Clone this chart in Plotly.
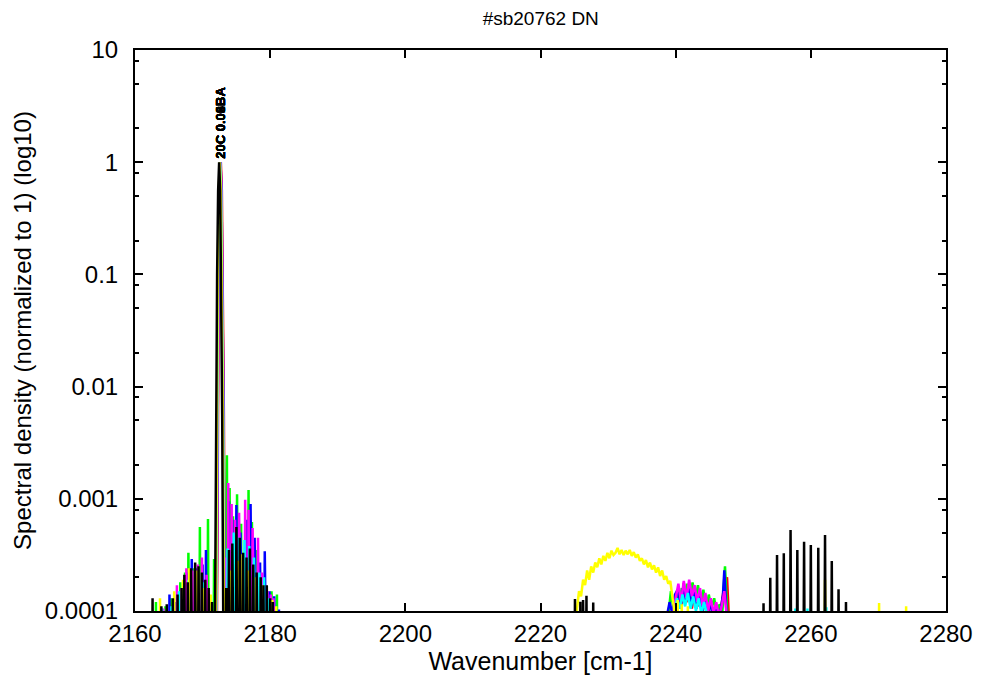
import plotly.graph_objects as go

# ---------------- data ----------------
title_text = "#sb20762 DN"
x_title = "Wavenumber [cm-1]"
y_title = "Spectral density (normalized to 1) (log10)"
y_tick_vals = [1e-4, 1e-3, 1e-2, 1e-1, 1, 10]
y_tick_text = ["0.0001", "0.001", "0.01", "0.1", "1", "10"]
x_tick_vals = [2160, 2180, 2200, 2220, 2240, 2260, 2280]

series_names = ["red", "green", "blue", "magenta", "cyan", "yellow", "black"]
series_colors = {"red": "#ff0000", "green": "#00ff00", "blue": "#0000ff", "magenta": "#ff00ff",
                 "cyan": "#00ffff", "yellow": "#ffff00", "black": "#000000"}
peak_labels = ["20C 0.05BA", "20C 0.08BA", "20C 0.06BA", "20C 0.03BA", "20C 0.09BA", "20C 0.02BA", "20C 0.04BA"]

# strong line (shared profile, relative wavenumber offsets and values)
main_dx = [-0.75, -0.6, -0.45, -0.3, -0.15, 0.0, 0.15, 0.3, 0.45, 0.6, 0.75]
main_val = [1e-6, 1e-4, 5.6e-3, 0.1, 0.56, 1.0, 0.56, 0.1, 5.6e-3, 1e-4, 1e-6]
main_center = {"red": 2172.7, "green": 2172.6, "blue": 2172.65, "magenta": 2172.65,
               "cyan": 2172.6, "yellow": 2172.55, "black": 2172.45}

# individual lines (wavenumber, value)
lines_wn = {
    "black": [2162.6, 2163.9, 2164.7, 2165.6, 2166.3, 2166.9, 2167.3, 2167.8, 2168.3, 2168.9, 2169.4,
              2169.9, 2170.4, 2170.9, 2171.4, 2173.5, 2173.9, 2174.4, 2175.0, 2175.5, 2176.0, 2176.5,
              2177.0, 2177.5, 2178.0, 2178.6, 2179.0, 2179.5, 2180.0, 2180.4,
              2225.1, 2225.9, 2226.3, 2226.8, 2227.8,
              2253.0, 2254.0, 2255.0, 2256.0, 2257.0, 2258.0, 2259.0, 2260.0, 2261.1, 2262.1, 2263.1,
              2264.1, 2265.2],
    "green": [2163.1, 2164.5, 2165.3, 2166.7, 2167.4, 2167.9, 2168.6, 2169.6, 2170.8, 2171.7, 2173.6,
              2174.0, 2174.5, 2175.1, 2175.7, 2176.8, 2177.3, 2178.0, 2178.7, 2179.3, 2180.2, 2181.0],
    "magenta": [2164.2, 2166.2, 2166.9, 2167.6, 2168.5, 2169.3, 2169.9, 2170.6, 2173.5, 2173.8, 2174.3,
                2174.8, 2175.4, 2176.3, 2176.8, 2177.4, 2178.2, 2178.8, 2179.6, 2180.1, 2180.5],
    "blue": [2165.1, 2166.0, 2167.0, 2167.7, 2168.4, 2169.2, 2170.0, 2170.5, 2173.9, 2174.4, 2175.0,
             2175.6, 2176.5, 2177.1, 2177.7, 2178.5, 2179.2, 2179.9, 2180.6, 2181.3],
    "cyan": [2164.0, 2165.4, 2166.5, 2167.9, 2169.0, 2170.2, 2173.7, 2174.6, 2175.4, 2176.2, 2176.9,
             2177.6, 2178.4, 2179.1, 2179.8, 2257.7, 2259.5, 2262.3],
    "yellow": [2163.7, 2165.8, 2167.1, 2168.0, 2169.1, 2170.1, 2171.2, 2174.2, 2175.2, 2175.9, 2176.7,
               2177.9, 2178.9, 2180.3, 2180.9, 2240.3, 2240.9, 2241.8, 2262.1, 2270.1, 2274.1],
    "red": [2168.8, 2173.8, 2174.2, 2175.3, 2177.2, 2178.3],
}
lines_val = {
    "black": [1.3e-4, 1.1e-4, 1.15e-4, 1.3e-4, 1.4e-4, 1.6e-4, 2.1e-4, 1.8e-4, 2.4e-4, 2.7e-4, 2.5e-4,
              2.2e-4, 1.9e-4, 1.6e-4, 1.2e-4, 1.6e-4, 3.5e-4, 4.0e-4, 5.6e-4, 4.5e-4, 3.3e-4, 3.0e-4,
              3.6e-4, 2.6e-4, 2.2e-4, 2.0e-4, 1.7e-4, 1.7e-4, 1.3e-4, 1.2e-4,
              1.28e-4, 1.21e-4, 1.25e-4, 1.37e-4, 1.19e-4,
              1.17e-4, 1.98e-4, 3.15e-4, 3.27e-4, 5.27e-4, 3.5e-4, 4.15e-4, 3.87e-4, 3.67e-4, 4.75e-4,
              2.79e-4, 1.56e-4, 1.2e-4],
    "green": [1.2e-4, 1.1e-4, 1.3e-4, 1.8e-4, 2.2e-4, 3.3e-4, 2.4e-4, 5.6e-4, 6.6e-4, 2.9e-4, 2.45e-3,
              1.25e-3, 7e-4, 1.1e-3, 6e-4, 1.2e-3, 6.2e-4, 3.5e-4, 2.0e-4, 1.6e-4, 1.5e-4, 1.4e-4],
    "magenta": [1.05e-4, 1.7e-4, 1.6e-4, 2.4e-4, 2.3e-4, 2.6e-4, 3.0e-4, 2.1e-4, 3e-4, 1.38e-3, 9e-4,
                6.5e-4, 7.5e-4, 9.8e-4, 8e-4, 5.5e-4, 4.5e-4, 2.2e-4, 1.5e-4, 1.4e-4, 1.3e-4],
    "blue": [1.4e-4, 1.2e-4, 1.6e-4, 2.2e-4, 2.9e-4, 2.4e-4, 2.6e-4, 3.5e-4, 9.5e-4, 6.5e-4, 8.8e-4,
             5e-4, 6.5e-4, 9e-4, 4.5e-4, 2.7e-4, 3.4e-4, 1.5e-4, 1.35e-4, 1.03e-4],
    "cyan": [1.05e-4, 1.1e-4, 1.5e-4, 1.9e-4, 2.0e-4, 1.8e-4, 3.6e-4, 5e-4, 4.5e-4, 4.3e-4, 3.8e-4,
             3.0e-4, 2.2e-4, 2.0e-4, 1.3e-4, 1.05e-4, 1.05e-4, 1.08e-4],
    "yellow": [1.3e-4, 1.5e-4, 1.9e-4, 2.4e-4, 2.3e-4, 1.6e-4, 1.4e-4, 2.3e-4, 2.8e-4, 3.2e-4, 2.3e-4,
               2.0e-4, 1.7e-4, 1.25e-4, 1.1e-4, 1.25e-4, 1.15e-4, 1.1e-4, 1.9e-4, 1.18e-4, 1.1e-4],
    "red": [2e-4, 5e-4, 2e-4, 6e-4, 5e-4, 2.5e-4],
}

# continuous (noisy) stretches
band_wn = {
    "yellow": [2225.4, 2225.7, 2226.0, 2226.3, 2226.6, 2226.9, 2227.2, 2227.5, 2227.8, 2228.1, 2228.4,
               2228.7, 2229.0, 2229.3, 2229.6, 2229.9, 2230.2, 2230.5, 2230.8, 2231.1, 2231.4, 2231.7,
               2232.0, 2232.3, 2232.6, 2232.9, 2233.2, 2233.5, 2233.8, 2234.1, 2234.4, 2234.7, 2235.0,
               2235.3, 2235.6, 2235.9, 2236.2, 2236.5, 2236.8, 2237.1, 2237.4, 2237.7, 2238.0, 2238.3,
               2238.6, 2238.9, 2239.2, 2239.5, 2239.8],
    "green": [2238.9, 2239.3, 2239.7, 2240.1, 2240.5, 2240.9, 2241.3, 2241.7, 2242.1, 2242.5, 2242.9,
              2243.3, 2243.7, 2244.1, 2244.5, 2244.9, 2245.3, 2245.7, 2246.1, 2246.5, 2246.9, 2247.1,
              2247.3, 2247.5, 2247.7],
    "blue": [2238.7, 2239.1, 2239.5, 2239.9, 2240.3, 2240.7, 2241.1, 2241.5, 2241.9, 2242.3, 2242.7,
             2243.1, 2243.5, 2243.9, 2244.3, 2244.7, 2245.1, 2245.5, 2245.9, 2246.3, 2246.7, 2247.0,
             2247.2, 2247.4, 2247.6],
    "magenta": [2239.6, 2240.0, 2240.4, 2240.8, 2241.2, 2241.6, 2242.0, 2242.4, 2242.8, 2243.2, 2243.6,
                2244.0, 2244.4, 2244.8, 2245.2, 2245.6, 2246.0, 2246.4, 2246.8, 2247.2, 2247.6],
    "red": [2240.0, 2240.4, 2240.8, 2241.2, 2241.6, 2242.0, 2242.4, 2242.8, 2243.2, 2243.6, 2244.0,
            2244.4, 2244.8, 2245.2, 2245.6, 2246.0, 2246.4, 2246.8, 2247.2, 2247.6, 2247.9],
    "cyan": [2239.8, 2240.2, 2240.6, 2241.0, 2241.4, 2241.8, 2242.2, 2242.6, 2243.0, 2243.4, 2243.8,
             2244.2, 2244.6, 2245.0],
    "black": [],
}
band_val = {
    "yellow": [1.05e-4, 1.5e-4, 1.35e-4, 1.9e-4, 1.7e-4, 2.3e-4, 1.9e-4, 2.5e-4, 2.2e-4, 2.7e-4,
               2.45e-4, 2.95e-4, 2.6e-4, 3.1e-4, 2.8e-4, 3.3e-4, 2.95e-4, 3.45e-4, 3.15e-4, 3.3e-4,
               3.65e-4, 3.2e-4, 3.5e-4, 3.15e-4, 3.45e-4, 3.2e-4, 3.5e-4, 3.1e-4, 3.35e-4, 3.0e-4,
               3.2e-4, 2.8e-4, 2.95e-4, 2.6e-4, 2.85e-4, 2.45e-4, 2.7e-4, 2.35e-4, 2.55e-4, 2.2e-4,
               2.45e-4, 2.05e-4, 2.3e-4, 1.9e-4, 2.05e-4, 1.75e-4, 1.85e-4, 1.4e-4, 1.0e-4],
    "green": [0.9e-4, 1.5e-4, 1.0e-4, 1.45e-4, 1.15e-4, 1.6e-4, 1.2e-4, 1.75e-4, 1.3e-4, 1.8e-4, 1.25e-4,
              1.7e-4, 1.1e-4, 1.55e-4, 1.0e-4, 1.4e-4, 1.05e-4, 1.3e-4, 0.9e-4, 1.15e-4, 0.95e-4, 1.6e-4,
              2.5e-4, 1.4e-4, 0.8e-4],
    "blue": [0.9e-4, 1.2e-4, 0.95e-4, 1.4e-4, 1.55e-4, 1.05e-4, 1.6e-4, 1.2e-4, 1.65e-4, 1.1e-4, 1.5e-4,
             1.05e-4, 1.45e-4, 0.95e-4, 1.3e-4, 0.95e-4, 1.2e-4, 0.9e-4, 1.1e-4, 0.85e-4, 1.05e-4, 1.4e-4,
             2.3e-4, 1.3e-4, 0.8e-4],
    "magenta": [0.9e-4, 1.3e-4, 1.75e-4, 1.2e-4, 1.85e-4, 1.3e-4, 1.9e-4, 1.35e-4, 1.7e-4, 1.2e-4, 1.6e-4,
                1.1e-4, 1.45e-4, 1.0e-4, 1.3e-4, 0.95e-4, 1.2e-4, 0.9e-4, 1.1e-4, 1.5e-4, 0.85e-4],
    "red": [0.9e-4, 1.6e-4, 1.1e-4, 1.78e-4, 1.2e-4, 1.55e-4, 1.05e-4, 1.5e-4, 1.1e-4, 1.4e-4, 1.0e-4,
            1.3e-4, 0.95e-4, 1.2e-4, 0.95e-4, 1.1e-4, 0.9e-4, 1.15e-4, 1.7e-4, 2.0e-4, 0.8e-4],
    "cyan": [0.9e-4, 1.3e-4, 1.05e-4, 1.4e-4, 1.1e-4, 1.45e-4, 1.05e-4, 1.35e-4, 1.0e-4, 1.3e-4, 0.95e-4,
             1.2e-4, 0.95e-4, 0.9e-4],
    "black": [],
}

FLOOR = 1e-6
HALF = 0.2


def build(name):
    segs = []
    for w, v in zip(lines_wn[name], lines_val[name]):
        segs.append(([w - HALF, w, w + HALF], [FLOOR, v, FLOOR]))
    c = main_center[name]
    segs.append(([c + d for d in main_dx], list(main_val)))
    bw, bv = band_wn[name], band_val[name]
    if bw:
        segs.append(([bw[0] - HALF] + bw + [bw[-1] + HALF], [FLOOR] + bv + [FLOOR]))
    segs.sort(key=lambda s: s[0][0])
    xs, ys = [], []
    for sx, sy in segs:
        xs += sx
        ys += sy
    return xs, ys


fig = go.Figure()
for name in series_names:
    xs, ys = build(name)
    fig.add_trace(go.Scatter(x=xs, y=ys, mode="lines", line=dict(color=series_colors[name], width=2.5),
                             showlegend=False, hoverinfo="skip"))

font_family = "Liberation Sans, Arial, sans-serif"
for lab in peak_labels:
    fig.add_annotation(x=2172.65, y=0, xref="x", yref="y", text="<b>" + lab + "</b>", textangle=-90,
                       showarrow=False, yanchor="bottom", xanchor="center", yshift=2,
                       font=dict(family=font_family, size=13, color="black"))

axis_common = dict(showline=True, linecolor="black", linewidth=2, mirror="ticks", ticks="inside",
                   tickcolor="black", tickwidth=1.5, showgrid=False, zeroline=False, automargin=False,
                   tickfont=dict(family=font_family, size=24, color="black"))

fig.update_xaxes(range=[2160, 2280], tickmode="array", tickvals=x_tick_vals, ticklen=8,
                 ticklabelstandoff=0,
                 title=dict(text=x_title, font=dict(family=font_family, size=25, color="black"), standoff=4),
                 **axis_common)
minor_y = []
for dec in [1e-4, 1e-3, 1e-2, 1e-1, 1]:
    minor_y += [2 * dec, 5 * dec, 8 * dec]
fig.update_yaxes(type="log", range=[-4, 1], tickmode="array", tickvals=y_tick_vals, ticktext=y_tick_text,
                 ticklen=8, ticklabelstandoff=10,
                 minor=dict(tickmode="array", tickvals=minor_y, ticklen=4, ticks="inside", tickcolor="black",
                            tickwidth=1.5),
                 title=dict(text=y_title, font=dict(family=font_family, size=24, color="black"), standoff=6),
                 **axis_common)

fig.update_layout(
    width=985, height=677,
    margin=dict(l=135, r=39, t=50, b=66, pad=0, autoexpand=False),
    plot_bgcolor="white", paper_bgcolor="white",
    title=dict(text=title_text, x=0.549, xanchor="center", y=0.973, yanchor="middle",
               font=dict(family=font_family, size=19, color="black")),
)

fig.write_html("out.html")
